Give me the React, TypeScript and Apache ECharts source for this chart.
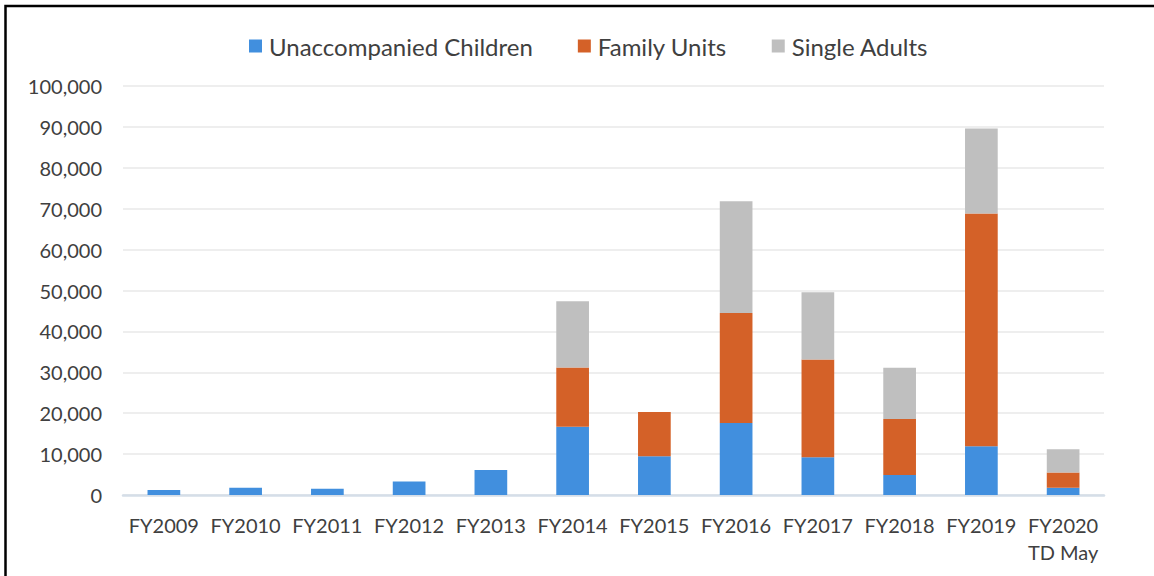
import React, { useEffect, useRef } from "react";
import * as echarts from "echarts";

const categories = [
  "FY2009", "FY2010", "FY2011", "FY2012", "FY2013", "FY2014",
  "FY2015", "FY2016", "FY2017", "FY2018", "FY2019", "FY2020\nTD May",
];
const unaccompaniedChildren = [1200, 1800, 1500, 3300, 6100, 16700, 9500, 17600, 9200, 4900, 11900, 1800];
const familyUnits = [0, 0, 0, 0, 0, 14500, 10800, 26900, 23900, 13700, 56900, 3700];
const singleAdults = [0, 0, 0, 0, 0, 16200, 0, 27300, 16500, 12500, 20800, 5700];

const FONT = "Lato";
const TEXT = "#404040";

export default function App() {
  const ref = useRef<HTMLDivElement>(null);
  useEffect(() => {
    if (!ref.current) return;
    const chart = echarts.init(ref.current, null, { renderer: "svg" });
    const mk = (name: string, data: number[], color: string) => ({
      name,
      type: "bar",
      stack: "total",
      data,
      barWidth: "40%",
      itemStyle: { color },
      emphasis: { disabled: true },
    });
    chart.setOption({
      animation: false,
      backgroundColor: "#ffffff",
      textStyle: { fontFamily: FONT },
      graphic: [
        {
          type: "rect",
          shape: { x: 5.5, y: 6, width: 1200, height: 620 },
          style: { fill: "none", stroke: "#000000", lineWidth: 2.5 },
          silent: true,
        },
      ],
      legend: {
        top: 29,
        left: 244,
        itemWidth: 13,
        itemHeight: 13,
        itemGap: 45,
        icon: "rect",
        textStyle: { fontFamily: FONT, fontSize: 24, color: TEXT, padding: [0, 0, 0, 2] },
        data: ["Unaccompanied Children", "Family Units", "Single Adults"],
      },
      grid: { left: 123, right: 50, top: 86, bottom: 81, containLabel: false },
      xAxis: {
        type: "category",
        data: categories,
        axisLine: { lineStyle: { color: "#D5DEE8", width: 2.5 } },
        axisTick: { show: false },
        axisLabel: {
          fontFamily: FONT,
          fontSize: 20,
          color: TEXT,
          margin: 16,
          lineHeight: 27,
          interval: 0,
        },
      },
      yAxis: {
        type: "value",
        min: 0,
        max: 100000,
        interval: 10000,
        axisLine: { show: false },
        axisTick: { show: false },
        splitLine: { lineStyle: { color: "#E8E8E8", width: 1.5 } },
        axisLabel: {
          fontFamily: FONT,
          fontSize: 20,
          color: TEXT,
          margin: 21,
          formatter: (v: number) => v.toLocaleString("en-US"),
        },
      },
      series: [
        mk("Unaccompanied Children", unaccompaniedChildren, "#418FDE"),
        mk("Family Units", familyUnits, "#D46128"),
        mk("Single Adults", singleAdults, "#BFBFBF"),
      ],
    });
    return () => chart.dispose();
  }, []);
  return (
    <div
      ref={ref}
      style={{ position: "absolute", left: 0, top: 0, width: 1154, height: 576 }}
    />
  );
}
